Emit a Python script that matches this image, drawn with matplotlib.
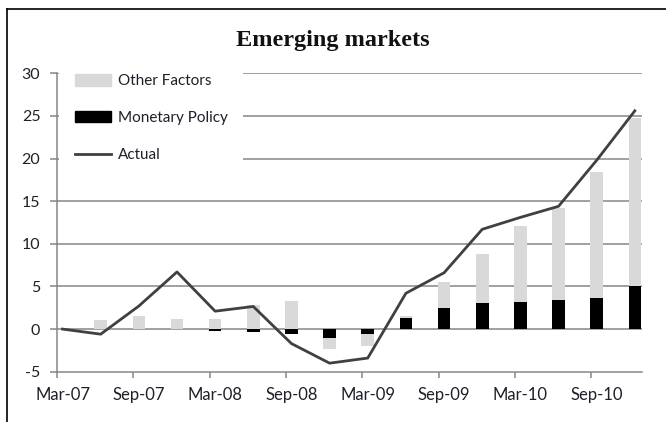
import numpy as np
import matplotlib
matplotlib.use("Agg")
from matplotlib import pyplot as plt
from matplotlib.lines import Line2D
from matplotlib.patches import Patch

# quarterly contributions, emerging markets
quarters = ["Mar-07", "Jun-07", "Sep-07", "Dec-07",
            "Mar-08", "Jun-08", "Sep-08", "Dec-08",
            "Mar-09", "Jun-09", "Sep-09", "Dec-09",
            "Mar-10", "Jun-10", "Sep-10", "Dec-10"]
monetary_policy = [0.0, 0.0, 0.0, 0.0, -0.2, -0.4, -0.6, -1.1,
                   -0.6, 1.3, 2.5, 3.0, 3.2, 3.4, 3.6, 5.0]
other_factors = [0.0, 1.1, 1.5, 1.2, 1.2, 2.8, 3.3, -1.2,
                 -1.4, 0.2, 3.0, 5.8, 8.9, 10.8, 14.8, 19.8]
actual = [0.0, -0.6, 2.7, 6.7, 2.1, 2.65, -1.7, -4.0,
          -3.4, 4.2, 6.6, 11.7, 13.1, 14.4, 19.8, 25.6]
y_ticks = [-5, 0, 5, 10, 15, 20, 25, 30]

GRID = "#868686"
TEXT = "#1f1f2a"
plt.rcParams["font.family"] = ["Lato", "DejaVu Sans"]


def plot_chart(filename):
    fig = plt.figure(figsize=(6.66, 4.22), dpi=100)
    ax = fig.add_axes([0.0856, 0.1192, 0.8779, 0.7071])

    x = np.arange(len(quarters))
    mon = np.array(monetary_policy)
    oth = np.array(other_factors)
    # stack positives on positives and negatives on negatives
    oth_bottom = np.where(oth >= 0, np.maximum(mon, 0), np.minimum(mon, 0))

    width = 0.33
    ax.bar(x, mon, width, color="black", zorder=3)
    ax.bar(x, oth, width, bottom=oth_bottom, color="#d9d9d9", zorder=3)
    ax.plot(x, actual, color="#404040", linewidth=2.0, zorder=4)

    ax.set_xlim(-0.144, 15.18)
    ax.set_ylim(-5, 30)
    ax.set_yticks(y_ticks)
    ax.set_yticklabels([str(v) for v in y_ticks])
    for v in y_ticks[1:]:
        ax.axhline(v, color=GRID, linewidth=1.1, zorder=1)

    # tick marks sit slightly left of the labelled quarter
    ax.set_xticks(x[::2] - 0.144)
    ax.set_xticklabels([])
    ax.set_xticks(x[::2], minor=True)
    ax.set_xticklabels(quarters[::2], minor=True)
    ax.tick_params(axis="x", which="major", length=4, width=1.1, color=GRID)
    ax.tick_params(axis="x", which="minor", length=0, pad=11,
                   labelsize=12, labelcolor=TEXT)
    ax.tick_params(axis="y", length=5, width=1.1, color=GRID, pad=7,
                   labelsize=11.5, labelcolor=TEXT)

    for side in ["top", "right"]:
        ax.spines[side].set_visible(False)
    for side in ["left", "bottom"]:
        ax.spines[side].set_color(GRID)
        ax.spines[side].set_linewidth(1.1)

    handles = [Patch(color="#d9d9d9"), Patch(color="black"),
               Line2D([], [], color="#404040", linewidth=2.0)]
    leg = ax.legend(handles, ["Other Factors", "Monetary Policy", "Actual"],
                    loc="upper left", bbox_to_anchor=(0.004, 1.048),
                    frameon=True, fancybox=False, framealpha=1,
                    facecolor="white", edgecolor="none",
                    fontsize=11, labelcolor=TEXT, handlelength=2.4,
                    handleheight=0.75, handletextpad=0.45,
                    labelspacing=1.5, borderpad=1.0, borderaxespad=0.0)
    leg.set_zorder(5)
    leg.get_frame().set_width(0)

    fig.text(0.5, 0.905, "Emerging markets", ha="center", va="center",
             fontsize=17.5, fontweight="bold", family="Liberation Serif",
             color="#111111")

    # outer frame, open at the right and bottom
    fig.add_artist(Line2D([0.0105, 0.0105], [0.0, 0.979], color="black",
                          linewidth=1.2, transform=fig.transFigure))
    fig.add_artist(Line2D([0.0105, 1.0], [0.979, 0.979], color="black",
                          linewidth=1.2, transform=fig.transFigure))

    fig.savefig(filename, dpi=100)
    plt.close(fig)


def main():
    plot_chart("out.png")


if __name__ == "__main__":
    main()
